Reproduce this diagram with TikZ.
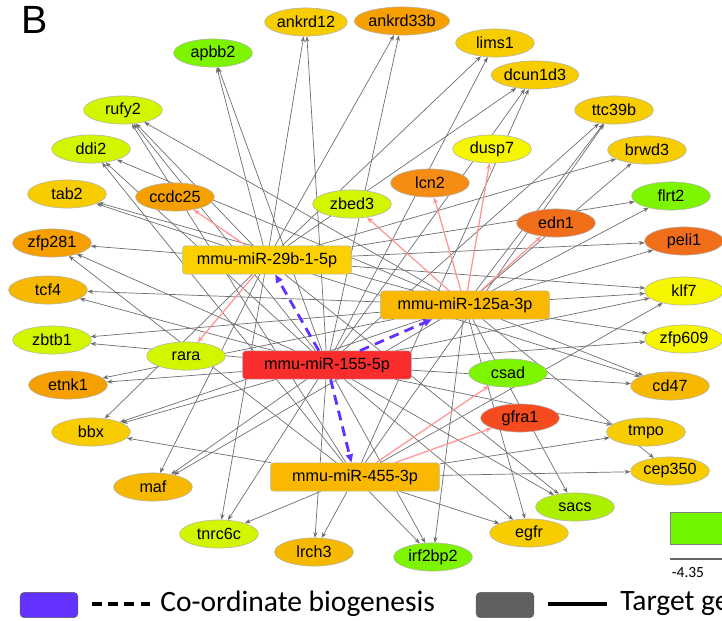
\documentclass[tikz,border=0pt]{standalone}
\usepackage{fontspec}
\setmainfont{Liberation Sans}
\newfontfamily\legendfont{Carlito}
\usetikzlibrary{shapes.geometric,arrows.meta,backgrounds}

\definecolor{cGreen}{RGB}{125,245,0}
\definecolor{cSacs}{RGB}{172,240,0}
\definecolor{cLime}{RGB}{212,245,0}
\definecolor{cYellow}{RGB}{245,245,0}
\definecolor{cGold}{RGB}{248,205,0}
\definecolor{cAmber}{RGB}{246,185,0}
\definecolor{cOrange}{RGB}{245,160,0}
\definecolor{cDeep}{RGB}{245,140,20}
\definecolor{cDark}{RGB}{240,110,25}
\definecolor{cRed}{RGB}{245,75,30}
\definecolor{hubGold}{RGB}{252,208,0}
\definecolor{hubAmber}{RGB}{250,185,0}
\definecolor{hubRed}{RGB}{250,45,45}
\definecolor{edgeGray}{RGB}{110,110,110}
\definecolor{pinkEdge}{RGB}{255,150,150}
\definecolor{bioBlue}{RGB}{100,50,255}

\begin{document}
\begin{tikzpicture}[x=0.025cm,y=-0.025cm,
  gene/.style={ellipse,draw=gray!60,minimum width=56pt,minimum height=20pt,inner sep=0pt,
    font=\fontsize{11.5}{12}\selectfont},
  mir/.style={rectangle,rounded corners=2pt,draw=gray!60,minimum width=120pt,minimum height=20pt,
    inner sep=0pt,font=\fontsize{11.5}{12}\selectfont},
  tgt/.style={draw=edgeGray,line width=0.5pt,-{Stealth[length=4pt,width=3pt]}},
  pinktgt/.style={draw=pinkEdge,line width=0.9pt,-{Stealth[length=4.5pt,width=3.5pt]}},
  bio/.style={draw=bioBlue,line width=2pt,dash pattern=on 7pt off 4.5pt,
    -{Triangle[length=6pt,width=5pt]}}]
\useasboundingbox (0,0) rectangle (722,620);

\node (panel) at (35,20) {\fontsize{28}{30}\selectfont B};

% target genes
\node[gene,fill=cGold] (ankrd12) at (306,22) {ankrd12};
\node[gene,fill=cOrange] (ankrd33b) at (402,21) {ankrd33b};
\node[gene,fill=cGreen] (apbb2) at (213,53) {apbb2};
\node[gene,fill=cGold] (lims1) at (495,43) {lims1};
\node[gene,fill=cGold] (dcun1d3) at (535,75) {dcun1d3};
\node[gene,fill=cLime] (rufy2) at (123,110) {rufy2};
\node[gene,fill=cGold] (ttc39b) at (614,110) {ttc39b};
\node[gene,fill=cLime] (ddi2) at (91,149) {ddi2};
\node[gene,fill=cYellow] (dusp7) at (492,149) {dusp7};
\node[gene,fill=cGold] (brwd3) at (647,150) {brwd3};
\node[gene,fill=cGold] (tab2) at (67,194) {tab2};
\node[gene,fill=cOrange] (ccdc25) at (175,197) {ccdc25};
\node[gene,fill=cLime] (zbed3) at (352,204) {zbed3};
\node[gene,fill=cDeep] (lcn2) at (430,183) {lcn2};
\node[gene,fill=cGreen] (flrt2) at (671,196) {flrt2};
\node[gene,fill=cDark] (edn1) at (556,223) {edn1};
\node[gene,fill=cOrange] (zfp281) at (52,243) {zfp281};
\node[gene,fill=cDark] (peli1) at (684,241) {peli1};
\node[gene,fill=cAmber] (tcf4) at (48,290) {tcf4};
\node[gene,fill=cYellow] (klf7) at (684,291) {klf7};
\node[gene,fill=cLime] (zbtb1) at (52,340) {zbtb1};
\node[gene,fill=cLime] (rara) at (186,356) {rara};
\node[gene,fill=cYellow] (zfp609) at (684,339) {zfp609};
\node[gene,fill=cOrange] (etnk1) at (68,385) {etnk1};
\node[gene,fill=cGreen] (csad) at (508,373) {csad};
\node[gene,fill=cAmber] (cd47) at (670,386) {cd47};
\node[gene,fill=cRed] (gfra1) at (520,418) {gfra1};
\node[gene,fill=cGold] (bbx) at (91,432) {bbx};
\node[gene,fill=cGold] (tmpo) at (646,432) {tmpo};
\node[gene,fill=cGold] (cep350) at (670,471) {cep350};
\node[gene,fill=cAmber] (maf) at (153,487) {maf};
\node[gene,fill=cSacs] (sacs) at (575,507) {sacs};
\node[gene,fill=cLime] (tnrc6c) at (219,534) {tnrc6c};
\node[gene,fill=cAmber] (lrch3) at (314,552) {lrch3};
\node[gene,fill=cGold] (egfr) at (529,533) {egfr};
\node[gene,fill=cGreen] (irf2bp2) at (433,557) {irf2bp2};

% microRNAs
\node[mir,fill=hubGold] (mir29b) at (267,260) {mmu-miR-29b-1-5p};
\node[mir,fill=hubAmber] (mir125a) at (465,305) {mmu-miR-125a-3p};
\node[mir,fill=hubRed] (mir155) at (327,365) {mmu-miR-155-5p};
\node[mir,fill=hubAmber] (mir455) at (355,477) {mmu-miR-455-3p};

\begin{scope}[on background layer]
\draw[tgt] (mir29b) edge (ankrd12) edge (apbb2) edge (ankrd33b) edge (lims1)
  edge (dcun1d3) edge (brwd3) edge (rufy2) edge (tab2) edge (zfp281) edge (bbx)
  edge (maf) edge (tnrc6c) edge (cd47) edge (klf7) edge (peli1) edge (flrt2) edge (sacs);
\draw[tgt] (mir155) edge (ankrd12) edge (apbb2) edge (ankrd33b) edge (lims1)
  edge (dcun1d3) edge (ttc39b) edge (rufy2) edge (ddi2) edge (zfp281) edge (tcf4)
  edge (zbtb1) edge (etnk1) edge (bbx) edge (maf) edge (tnrc6c) edge (lrch3)
  edge (irf2bp2) edge (egfr) edge (sacs) edge (tmpo) edge (cd47) edge (zfp609) edge (klf7);
\draw[tgt] (mir125a) edge (ttc39b) edge (brwd3) edge (rufy2) edge (ddi2) edge (tab2)
  edge (tcf4) edge (zbtb1) edge (etnk1) edge (bbx) edge (maf) edge (irf2bp2)
  edge (egfr) edge (sacs) edge (cep350) edge (cd47) edge (zfp609) edge (klf7)
  edge (peli1) edge (flrt2);
\draw[tgt] (mir455) edge (tnrc6c) edge (lrch3) edge (tmpo) edge (irf2bp2) edge (cep350)
  edge (egfr) edge (rufy2) edge (ddi2) edge (zfp281) edge (ttc39b) edge (dcun1d3)
  edge (klf7) edge (bbx);
\draw[pinktgt] (mir29b) edge (ccdc25) edge (rara);
\draw[pinktgt] (mir125a) edge (zbed3) edge (lcn2) edge (dusp7) edge (edn1);
\draw[pinktgt] (mir455) edge (csad) edge (gfra1);
\end{scope}

% co-ordinate biogenesis
\draw[bio] (mir155) -- (mir29b);
\draw[bio] (mir155) -- (mir125a);
\draw[bio] (mir155) -- (mir455);

% legend
\node[draw=gray!70!black,fill=bioBlue,rounded corners=3pt,minimum width=41pt,minimum height=18pt,
  inner sep=0pt] (keyBio) at (49,605) {};
\coordinate (dashA) at (92,604);
\coordinate (dashB) at (150,604);
\draw[line width=2.2pt,dash pattern=on 7pt off 4.5pt] (dashA) -- (dashB);
\node[anchor=west,inner sep=0pt] (txtBio) at (160,604) {\legendfont\fontsize{21}{24}\selectfont Co-ordinate biogenesis};
\node[draw=gray!70!black,fill=gray!75!black,rounded corners=3pt,minimum width=41pt,minimum height=18pt,
  inner sep=0pt] (keyTgt) at (505,605) {};
\coordinate (lineA) at (548,604);
\coordinate (lineB) at (607,604);
\draw[line width=2.2pt] (lineA) -- (lineB);
\begin{scope}
\clip (0,0) rectangle (722,620);
\node[anchor=west,inner sep=0pt] (txtTgt) at (620,604) {\legendfont\fontsize{21}{24}\selectfont Target ge};
% colour scale
\node[draw=gray,fill=cGreen!90!green,minimum width=50pt,minimum height=23pt,inner sep=0pt,
  anchor=north west] (scaleLow) at (670,512) {};
\coordinate (scaleA) at (670,559);
\coordinate (scaleB) at (730,559);
\draw[gray!80!black,line width=0.8pt] (scaleA) -- (scaleB);
\end{scope}
\node (lowVal) at (688,573) {\legendfont\fontsize{11}{12}\selectfont -4.35};
\end{tikzpicture}
\end{document}
